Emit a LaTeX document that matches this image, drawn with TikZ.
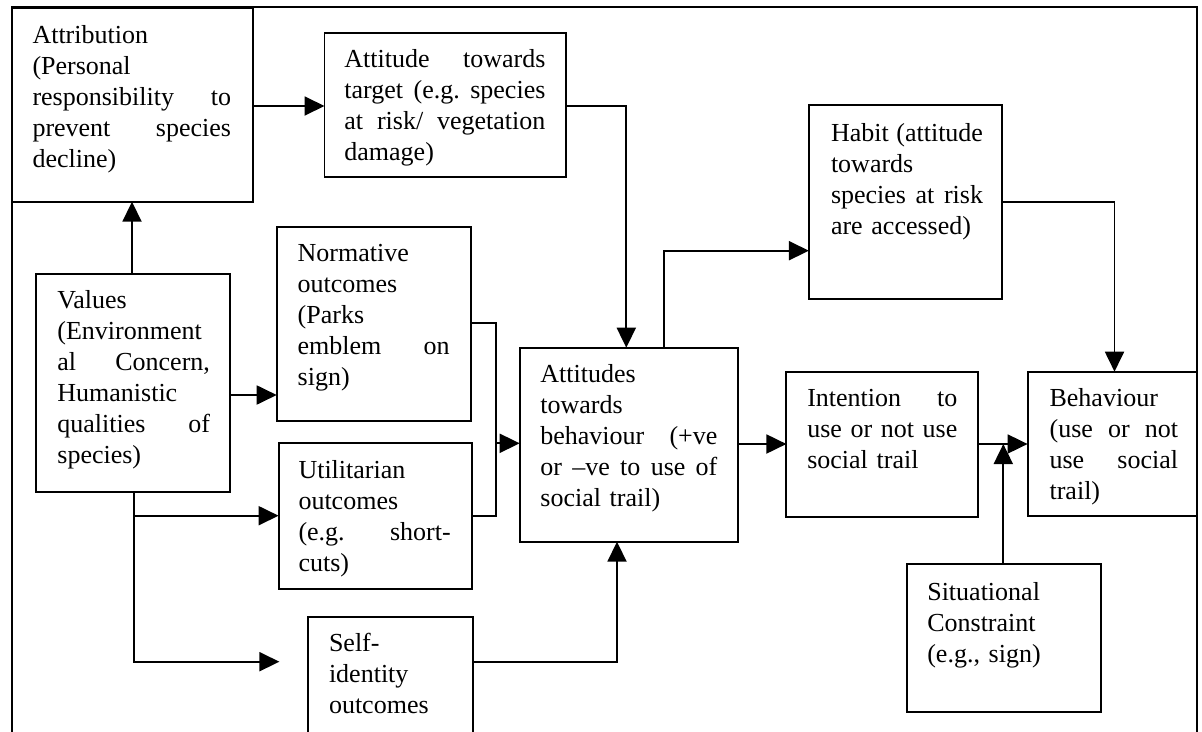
\documentclass[tikz,border=0pt]{standalone}
\usepackage{fontspec}
\setmainfont{Liberation Serif}
\usetikzlibrary{arrows.meta}
\tikzset{
  boxst/.style={draw, line width=1.9pt, rectangle, inner sep=0pt, outer sep=0pt, anchor=north west},
  txt/.style={anchor=north west, inner sep=0pt, outer sep=0pt, align=left, font=\fontsize{26}{31}\selectfont},
  conn/.style={line width=1.9pt},
  arr/.style={conn, -{Triangle[length=20pt,width=19pt]}},
}
\begin{document}
\begin{tikzpicture}[x=1pt,y=-1pt]
\useasboundingbox (0,0) rectangle (1202,731);
\clip (0,0) rectangle (1202,731);
% outer frame (open at the bottom)
\draw[conn] (12.3,740) -- (12.3,7.3) -- (1197,7.3) -- (1197,740);
% boxes
\node[boxst, minimum width=240.3pt, minimum height=193.4pt] (attr)  at (12.3,8.3) {};
\node[boxst, minimum width=241.9pt, minimum height=144.6pt] (targ)  at (324.5,32.7) {};
\node[boxst, minimum width=193.2pt, minimum height=218pt]   (vals)  at (36.4,274.3) {};
\node[boxst, minimum width=194pt,   minimum height=194pt]   (norm)  at (276.7,226.7) {};
\node[boxst, minimum width=193.4pt, minimum height=146pt]   (util)  at (278.6,443.3) {};
\node[boxst, minimum width=165.4pt, minimum height=140pt]   (self)  at (308,616.7) {};
\node[boxst, minimum width=218.3pt, minimum height=194pt]   (atti)  at (519.7,347.7) {};
\node[boxst, minimum width=193.4pt, minimum height=193.7pt] (habit) at (808.9,105.3) {};
\node[boxst, minimum width=191.6pt, minimum height=145pt]   (inten) at (786.4,371.7) {};
\node[boxst, minimum width=169.4pt, minimum height=144.5pt] (behav) at (1027.6,371.7) {};
\node[boxst, minimum width=194pt,   minimum height=147.4pt] (situ)  at (906.8,564.3) {};
% texts
\node[txt, text width=198.5pt] (attrT) at ([xshift=20.2pt,yshift=-13.3pt]attr.north west)
  {\strut Attribution\\(Personal\\responsibility\hfill to\\prevent\hfill species\\decline)};
\node[txt, text width=201pt] (targT) at ([xshift=19.9pt,yshift=-13.3pt]targ.north west)
  {\strut Attitude\hfill towards\\target\hfill (e.g.\hfill species\\at\hfill risk/\hfill vegetation\\damage)};
\node[txt, text width=152.5pt] (valsT) at ([xshift=21pt,yshift=-12.5pt]vals.north west)
  {\strut Values\\(Environment\\al\hfill Concern,\\Humanistic\\qualities\hfill of\\species)};
\node[txt, text width=152pt] (normT) at ([xshift=21pt,yshift=-13.3pt]norm.north west)
  {\strut Normative\\outcomes\\(Parks\\emblem\hfill on\\sign)};
\node[txt, text width=152.3pt] (utilT) at ([xshift=19.9pt,yshift=-13.3pt]util.north west)
  {\strut Utilitarian\\outcomes\\(e.g.\hfill short-\\cuts)};
\node[txt, text width=130pt] (selfT) at ([xshift=21pt,yshift=-13.3pt]self.north west)
  {\strut Self-\\identity\\outcomes};
\node[txt, text width=177pt] (attiT) at ([xshift=20.7pt,yshift=-13.3pt]atti.north west)
  {\strut Attitudes\\towards\\behaviour\hfill (+ve\\or\hfill –ve\hfill to\hfill use\hfill of\\social trail)};
\node[txt, text width=152pt] (habitT) at ([xshift=22.1pt,yshift=-14.3pt]habit.north west)
  {\strut Habit\hfill (attitude\\towards\\species\hfill at\hfill risk\\are accessed)};
\node[txt, text width=150pt] (intenT) at ([xshift=20.9pt,yshift=-13.3pt]inten.north west)
  {\strut Intention\hfill to\\use\hfill or\hfill not\hfill use\\social trail};
\node[txt, text width=128.5pt] (behavT) at ([xshift=22pt,yshift=-13.3pt]behav.north west)
  {\strut Behaviour\\(use\hfill or\hfill not\\use\hfill social\\trail)};
\node[txt, text width=150pt] (situT) at ([xshift=20.5pt,yshift=-14pt]situ.north west)
  {\strut Situational\\Constraint\\(e.g., sign)};
% junction / free-end coordinates
\coordinate (selfin) at (279.4,661.7);
\coordinate (vb) at (134,515.7);
\coordinate (nj) at (495.6,515.7);
\coordinate (na) at (495.6,443.3);
\coordinate (sj) at (1003.3,444);
% connectors
\draw[arr] (vals.north -| 132,0) -- (attr.south -| 132,0);
\draw[arr] (attr.east |- 0,106) -- (targ.west |- 0,106);
\draw[arr] (targ.east |- 0,106) -| (atti.north -| 626.3,0);
\draw[arr] (vals.east |- 0,395) -- (norm.west |- 0,395);
\draw[arr] (vals.south -| 134,0) |- (selfin);
\draw[arr] (vb) -- (util.west |- vb);
\draw[conn] (norm.east |- 0,322.7) -| (nj) -- (util.east |- nj);
\draw[arr] (na) -- (atti.west |- na);
\draw[arr] (self.east |- 0,661.7) -| (atti.south -| 617,0);
\draw[arr] (atti.north -| 663.8,0) |- (habit.west |- 0,250.7);
\draw[arr] (habit.east |- 0,201.7) -| (behav.north -| 1114.5,0);
\draw[arr] (atti.east |- 0,444) -- (inten.west |- 0,444);
\draw[arr] (inten.east |- 0,444) -- (behav.west |- 0,444);
\draw[arr] (situ.north -| sj) -- (sj);
\end{tikzpicture}
\end{document}
